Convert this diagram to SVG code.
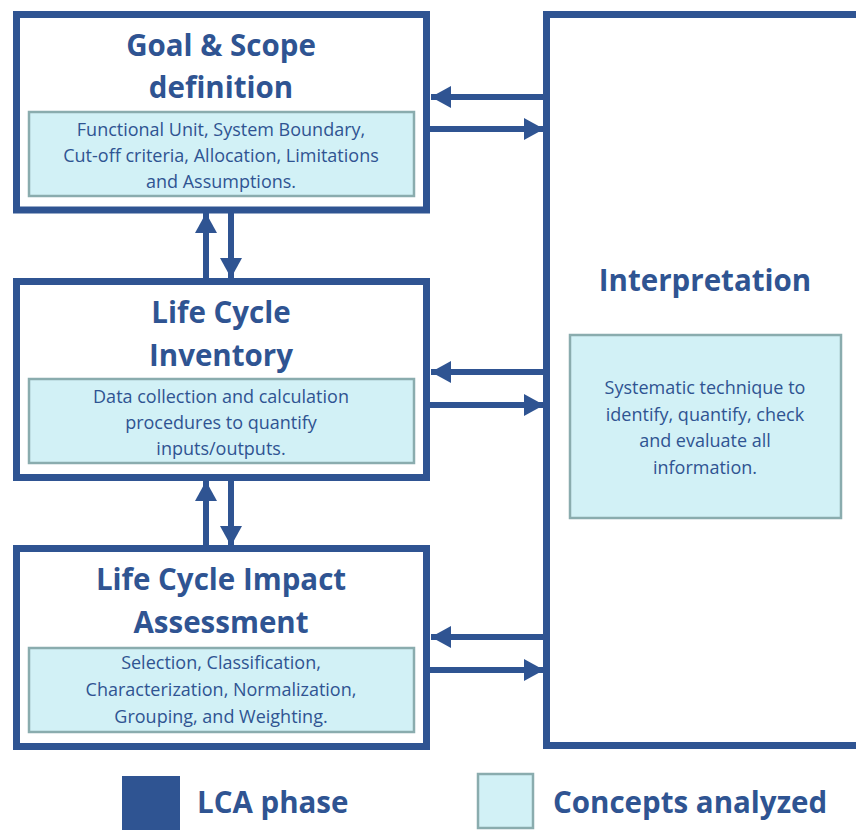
<svg xmlns="http://www.w3.org/2000/svg" width="856" height="830" viewBox="0 0 856 830">
  <style>
    .phase { fill: #ffffff; stroke: #2f5492; stroke-width: 7; }
    .concept { fill: #d2f1f6; stroke: #8aacae; stroke-width: 2.5; }
    .title { font-family: "Open Sans", Lato, sans-serif; font-weight: bold; font-size: 29.5px; fill: #2f5492; text-anchor: middle; }
    .body { font-family: "Open Sans", Lato, sans-serif; font-size: 18px; fill: #2f5492; text-anchor: middle; }
    .legend { font-family: "Open Sans", Lato, sans-serif; font-weight: bold; font-size: 29.5px; fill: #2f5492; }
    .link { stroke: #2f5492; stroke-width: 6; fill: none; }
  </style>
  <defs>
    <marker id="head" viewBox="0 0 20 22" refX="20" refY="11" markerWidth="20" markerHeight="22" markerUnits="userSpaceOnUse" orient="auto">
      <path d="M0,0 L20,11 L0,22 Z" fill="#2f5492"/>
    </marker>
  </defs>
  <rect width="856" height="830" fill="#ffffff"/>

  <g id="goal-scope">
    <rect class="phase" x="16.5" y="14.5" width="410" height="195.5"/>
    <text class="title" x="221" y="56">Goal &amp; Scope</text>
    <text class="title" x="221" y="98">definition</text>
    <rect class="concept" x="29" y="112" width="385" height="84"/>
    <text class="body" x="221" y="136">Functional Unit, System Boundary,</text>
    <text class="body" x="221" y="162">Cut-off criteria, Allocation, Limitations</text>
    <text class="body" x="221" y="188">and Assumptions.</text>
  </g>

  <g id="inventory">
    <rect class="phase" x="16.5" y="281.5" width="410" height="196"/>
    <text class="title" x="221" y="323">Life Cycle</text>
    <text class="title" x="221" y="366">Inventory</text>
    <rect class="concept" x="29" y="379" width="385" height="84"/>
    <text class="body" x="221" y="403">Data collection and calculation</text>
    <text class="body" x="221" y="429">procedures to quantify</text>
    <text class="body" x="221" y="455">inputs/outputs.</text>
  </g>

  <g id="impact-assessment">
    <rect class="phase" x="16.5" y="548.5" width="410" height="198"/>
    <text class="title" x="221" y="590">Life Cycle Impact</text>
    <text class="title" x="221" y="633">Assessment</text>
    <rect class="concept" x="29" y="648" width="385" height="84"/>
    <text class="body" x="221" y="669">Selection, Classification,</text>
    <text class="body" x="221" y="696">Characterization, Normalization,</text>
    <text class="body" x="221" y="723">Grouping, and Weighting.</text>
  </g>

  <g id="interpretation">
    <rect class="phase" x="546.5" y="14.5" width="320" height="731"/>
    <text class="title" x="705" y="291">Interpretation</text>
    <rect class="concept" x="570" y="335" width="271" height="183"/>
    <text class="body" x="705" y="394">Systematic technique to</text>
    <text class="body" x="705" y="421">identify, quantify, check</text>
    <text class="body" x="705" y="447">and evaluate all</text>
    <text class="body" x="705" y="474">information.</text>
  </g>

  <g id="connectors">
    <!-- phase to interpretation, both ways -->
    <line class="link" x1="545" y1="97" x2="431" y2="97" marker-end="url(#head)"/>
    <line class="link" x1="430" y1="129" x2="544" y2="129" marker-end="url(#head)"/>
    <line class="link" x1="545" y1="372" x2="431" y2="372" marker-end="url(#head)"/>
    <line class="link" x1="430" y1="405" x2="544" y2="405" marker-end="url(#head)"/>
    <line class="link" x1="545" y1="637" x2="431" y2="637" marker-end="url(#head)"/>
    <line class="link" x1="430" y1="670" x2="544" y2="670" marker-end="url(#head)"/>
    <!-- between stacked phases -->
    <line class="link" x1="206" y1="279" x2="206" y2="213" marker-end="url(#head)"/>
    <line class="link" x1="231" y1="213" x2="231" y2="278" marker-end="url(#head)"/>
    <line class="link" x1="206" y1="546" x2="206" y2="481" marker-end="url(#head)"/>
    <line class="link" x1="231" y1="481" x2="231" y2="546" marker-end="url(#head)"/>
  </g>

  <g id="legend">
    <rect x="122" y="776" width="58" height="54" fill="#2f5492"/>
    <text class="legend" x="197" y="813">LCA phase</text>
    <rect class="concept" x="478" y="774" width="55" height="54"/>
    <text class="legend" x="553" y="813">Concepts analyzed</text>
  </g>
</svg>
